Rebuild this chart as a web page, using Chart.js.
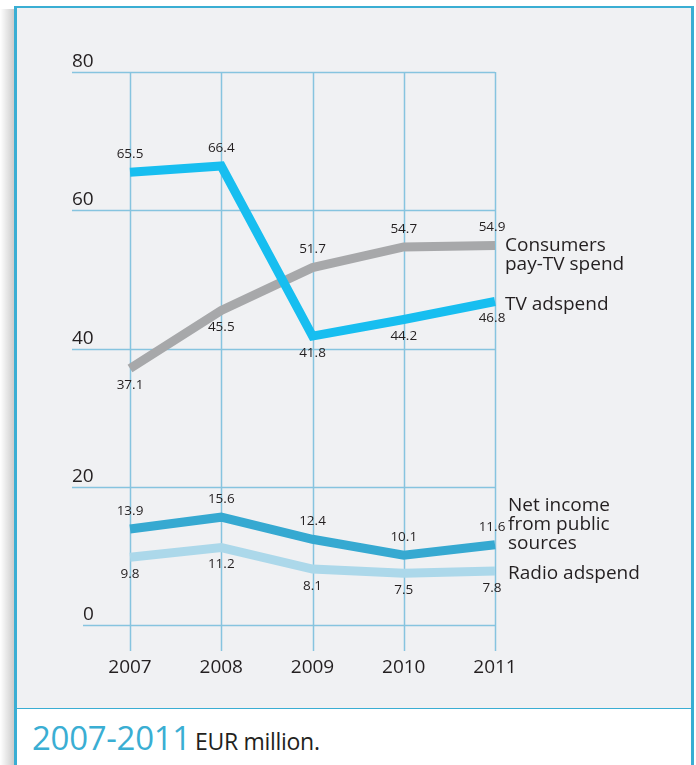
<!DOCTYPE html>
<html>
<head>
<meta charset="utf-8">
<script src="https://cdn.jsdelivr.net/npm/chart.js@4/dist/chart.umd.min.js"></script>
<style>
  body { margin: 0; width: 696px; height: 765px; position: relative; overflow: hidden; background: #fff; font-family: "Open Sans", sans-serif; }
  #shadow { position: absolute; left: 0; top: 9px; width: 14px; height: 756px; background: linear-gradient(to right, rgba(0,0,0,0), rgba(0,0,0,0.2)); }
  #panel { position: absolute; left: 14px; top: 6px; width: 674px; height: 700px; background: #f0f1f3; border: 3px solid #3aaed3; border-top-width: 2px; }
  #foot { position: absolute; left: 14px; top: 709px; width: 674px; height: 60px; background: #fff; border-left: 3px solid #3aaed3; border-right: 3px solid #3aaed3; }
  #caption { position: absolute; left: 32px; top: 719px; line-height: 38px; white-space: nowrap; color: #231f20; }
  #caption .yr { color: #3aaed3; font-size: 33px; letter-spacing: -0.3px; }
  #caption .unit { font-size: 23px; letter-spacing: -0.3px; }
  #wrap { position: absolute; left: 0; top: 0; width: 696px; height: 765px; }
</style>
</head>
<body>
<div id="shadow"></div>
<div id="panel"></div>
<div id="foot"></div>
<div id="caption"><span class="yr">2007-2011</span> <span class="unit">EUR million.</span></div>
<div id="wrap"><canvas id="myChart"></canvas></div>
<script>
const years = ['2007', '2008', '2009', '2010', '2011']
const tvAdspend = [65.5, 66.4, 41.8, 44.2, 46.8]
const payTv = [37.1, 45.5, 51.7, 54.7, 54.9]
const netIncome = [13.9, 15.6, 12.4, 10.1, 11.6]
const radioAdspend = [9.8, 11.2, 8.1, 7.5, 7.8]
const yTicks = [0, 20, 40, 60, 80]

const gridColor = '#86c4df'
const textColor = '#231f20'

// -1 = value label above the line, 1 = below
const tvSide = [-1, -1, 1, 1, 1]
const payTvSide = [1, 1, -1, -1, -1]
const netSide = [-1, -1, -1, -1, -1]
const radioSide = [1, 1, 1, 1, 1]

// series names written next to the line ends
const seriesNotes = [
  { lines: ['Consumers', 'pay-TV spend'], x: 505, y: 251 },
  { lines: ['TV adspend'], x: 505, y: 310 },
  { lines: ['Net income', 'from public', 'sources'], x: 508, y: 511 },
  { lines: ['Radio adspend'], x: 508, y: 579 }
]

const gridPlugin = {
  id: 'grid',
  beforeDatasetsDraw(chart) {
    const ctx = chart.ctx
    const x = chart.scales.x, y = chart.scales.y
    const area = chart.chartArea
    ctx.save()
    ctx.strokeStyle = gridColor
    ctx.lineWidth = 1.5
    yTicks.forEach(v => {
      const py = Math.round(y.getPixelForValue(v)) + 0.5
      const left = v === 0 ? 83 : 72
      ctx.beginPath()
      ctx.moveTo(left, py)
      ctx.lineTo(area.right, py)
      ctx.stroke()
    })
    years.forEach((lab, i) => {
      const px = Math.round(x.getPixelForValue(i)) + 0.5
      ctx.beginPath()
      ctx.moveTo(px, area.top)
      ctx.lineTo(px, area.bottom + 26)
      ctx.stroke()
    })
    ctx.fillStyle = textColor
    ctx.font = '19px "Open Sans"'
    ctx.textBaseline = 'alphabetic'
    ctx.textAlign = 'left'
    yTicks.forEach(v => {
      const py = y.getPixelForValue(v)
      ctx.fillText(String(v), v === 0 ? 83 : 72, py - 5)
    })
    ctx.textAlign = 'center'
    years.forEach((lab, i) => {
      ctx.fillText(lab, x.getPixelForValue(i), area.bottom + 48)
    })
    ctx.restore()
  },
  afterDatasetsDraw(chart) {
    const ctx = chart.ctx
    ctx.save()
    ctx.fillStyle = textColor
    ctx.font = '13.5px "Open Sans"'
    ctx.textAlign = 'center'
    ctx.textBaseline = 'middle'
    chart.data.datasets.forEach((ds, di) => {
      const meta = chart.getDatasetMeta(di)
      meta.data.forEach((pt, i) => {
        const side = ds.labelSide[i]
        // last column sits slightly left so it clears the series names
        const dx = i === meta.data.length - 1 ? -3 : 0
        ctx.fillText(ds.data[i].toFixed(1), pt.x + dx, pt.y + (side < 0 ? -18 : 17))
      })
    })
    ctx.font = '19px "Open Sans"'
    ctx.textAlign = 'left'
    ctx.textBaseline = 'alphabetic'
    seriesNotes.forEach(n => {
      n.lines.forEach((t, k) => ctx.fillText(t, n.x, n.y + k * 19))
    })
    ctx.restore()
  }
}

new Chart('myChart', {
  type: 'line',
  data: {
    labels: years,
    datasets: [{
      label: 'TV adspend',
      data: tvAdspend,
      borderColor: '#17bef0',
      labelSide: tvSide
    }, {
      label: 'Consumers pay-TV spend',
      data: payTv,
      borderColor: '#a7a8aa',
      labelSide: payTvSide
    }, {
      label: 'Net income from public sources',
      data: netIncome,
      borderColor: '#36a9d1',
      labelSide: netSide
    }, {
      label: 'Radio adspend',
      data: radioAdspend,
      borderColor: '#acd8ea',
      labelSide: radioSide
    }]
  },
  options: {
    responsive: true,
    maintainAspectRatio: false,
    animation: false,
    layout: { padding: { left: 130, right: 201, top: 72, bottom: 140 } },
    elements: {
      line: { borderWidth: 9, tension: 0, fill: false, borderJoinStyle: 'miter', borderCapStyle: 'butt' },
      point: { radius: 0, hoverRadius: 0 }
    },
    datasets: { line: { clip: false } },
    scales: {
      x: { display: false, offset: false },
      y: { display: false, min: 0, max: 80 }
    },
    plugins: {
      legend: { display: false },
      tooltip: { enabled: false }
    }
  },
  plugins: [gridPlugin]
})
</script>
</body>
</html>
